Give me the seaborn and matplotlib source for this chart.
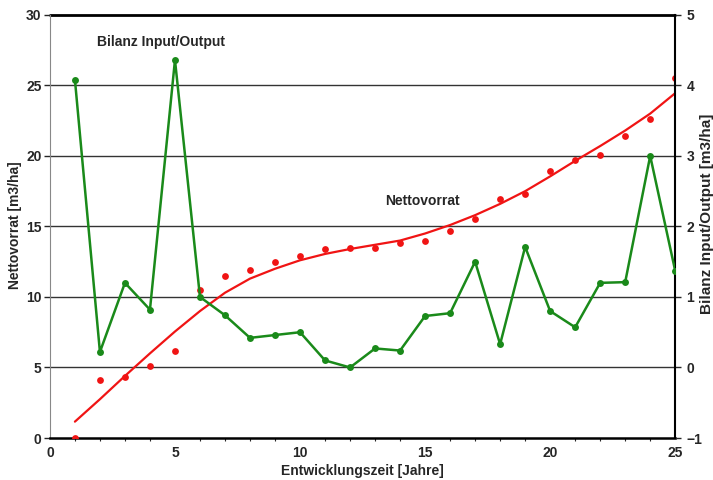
import numpy as np
import pandas as pd
import seaborn as sns
import matplotlib.pyplot as plt
from matplotlib.ticker import MultipleLocator

# Entwicklungszeit in Jahren
jahre = list(range(1, 26))

# Nettovorrat [m3/ha] (rote Punkte, linke Achse)
nettovorrat = [0.0, 4.1, 4.3, 5.1, 6.2, 10.5, 11.5, 11.9, 12.5, 12.9,
               13.4, 13.45, 13.5, 13.8, 14.0, 14.7, 15.5, 16.95, 17.3, 18.9,
               19.7, 20.1, 21.4, 22.6, 25.55]

# Ausgleichskurve Nettovorrat (rote Linie)
nettovorrat_trend = [1.16, 2.75, 4.4, 6.0, 7.55, 9.0, 10.3, 11.3, 12.0, 12.6,
                     13.05, 13.4, 13.7, 14.0, 14.5, 15.1, 15.8, 16.6, 17.5, 18.55,
                     19.65, 20.7, 21.8, 23.0, 24.45]

# Bilanz Input/Output [m3/ha] (gruene Linie, rechte Achse)
bilanz = [4.08, 0.22, 1.20, 0.82, 4.36, 1.00, 0.74, 0.42, 0.46, 0.50,
          0.10, 0.00, 0.27, 0.24, 0.73, 0.77, 1.50, 0.33, 1.71, 0.80,
          0.57, 1.20, 1.21, 3.00, 1.37]

df = pd.DataFrame({"jahr": jahre, "netto": nettovorrat,
                   "trend": nettovorrat_trend, "bilanz": bilanz})

sns.set_style("white")
plt.rcParams["font.family"] = ["Liberation Sans", "DejaVu Sans"]
plt.rcParams["font.weight"] = "bold"

rot = "#f01414"
gruen = "#1a8a1a"
fs = 10

fig = plt.figure(figsize=(7.13, 4.8), dpi=100)
ax = fig.add_axes([0.070, 0.0875, 0.877, 0.8815])

# horizontal grid lines
for y in [5, 10, 15, 20, 25]:
    ax.axhline(y, color="#333333", lw=1.0, zorder=0)
ax.axhline(30, color="black", lw=2.0, zorder=0, clip_on=False)

sns.lineplot(data=df, x="jahr", y="trend", ax=ax, color=rot, lw=1.6, zorder=3)
sns.scatterplot(data=df, x="jahr", y="netto", ax=ax, color=rot, s=24,
                linewidth=0, zorder=3)

ax.set_xlim(0, 25)
ax.set_ylim(0, 30)
ax.xaxis.set_major_locator(MultipleLocator(5))
ax.xaxis.set_minor_locator(MultipleLocator(1))
ax.yaxis.set_major_locator(MultipleLocator(5))
ax.tick_params(axis="both", which="major", direction="out", length=4,
               width=1, labelsize=fs, pad=2)
ax.tick_params(axis="x", which="minor", direction="out", length=2, width=0.8, bottom=True)
ax.tick_params(axis="y", left=True)
ax.set_xlabel("Entwicklungszeit [Jahre]", fontsize=fs, fontweight="bold", labelpad=3)
ax.set_ylabel("Nettovorrat [m3/ha]", fontsize=fs, fontweight="bold")
ax.yaxis.set_label_coords(-0.045, 0.504)
ax.spines["left"].set_color("#888888")
ax.spines["bottom"].set_color("black")
ax.spines["bottom"].set_linewidth(1.8)
ax.spines["top"].set_visible(False)
ax.spines["right"].set_visible(False)

ax2 = ax.twinx()
sns.lineplot(data=df, x="jahr", y="bilanz", ax=ax2, color=gruen, lw=1.8,
             marker="o", markersize=5, markeredgewidth=0, zorder=4)
ax2.set_ylim(-1, 5)
ax2.yaxis.set_major_locator(MultipleLocator(1))
ax2.tick_params(axis="y", direction="out", length=4, width=1, labelsize=fs, pad=4, right=True)
ax2.set_ylabel("Bilanz Input/Output [m3/ha]", fontsize=11, fontweight="bold")
ax2.yaxis.set_label_coords(1.04, 0.53)
ax2.set_xlabel("")
for s in ["left", "top", "bottom"]:
    ax2.spines[s].set_visible(False)
ax2.spines["right"].set_color("black")
ax2.spines["right"].set_linewidth(1.5)

ax.text(4.45, 28.1, "Bilanz Input/Output", fontsize=fs, fontweight="bold",
        ha="center", va="center")
ax.text(14.9, 16.8, "Nettovorrat", fontsize=fs, fontweight="bold",
        ha="center", va="center")

for t in ax.get_xticklabels() + ax.get_yticklabels() + ax2.get_yticklabels():
    t.set_fontweight("bold")

fig.savefig("out.png", dpi=100)
